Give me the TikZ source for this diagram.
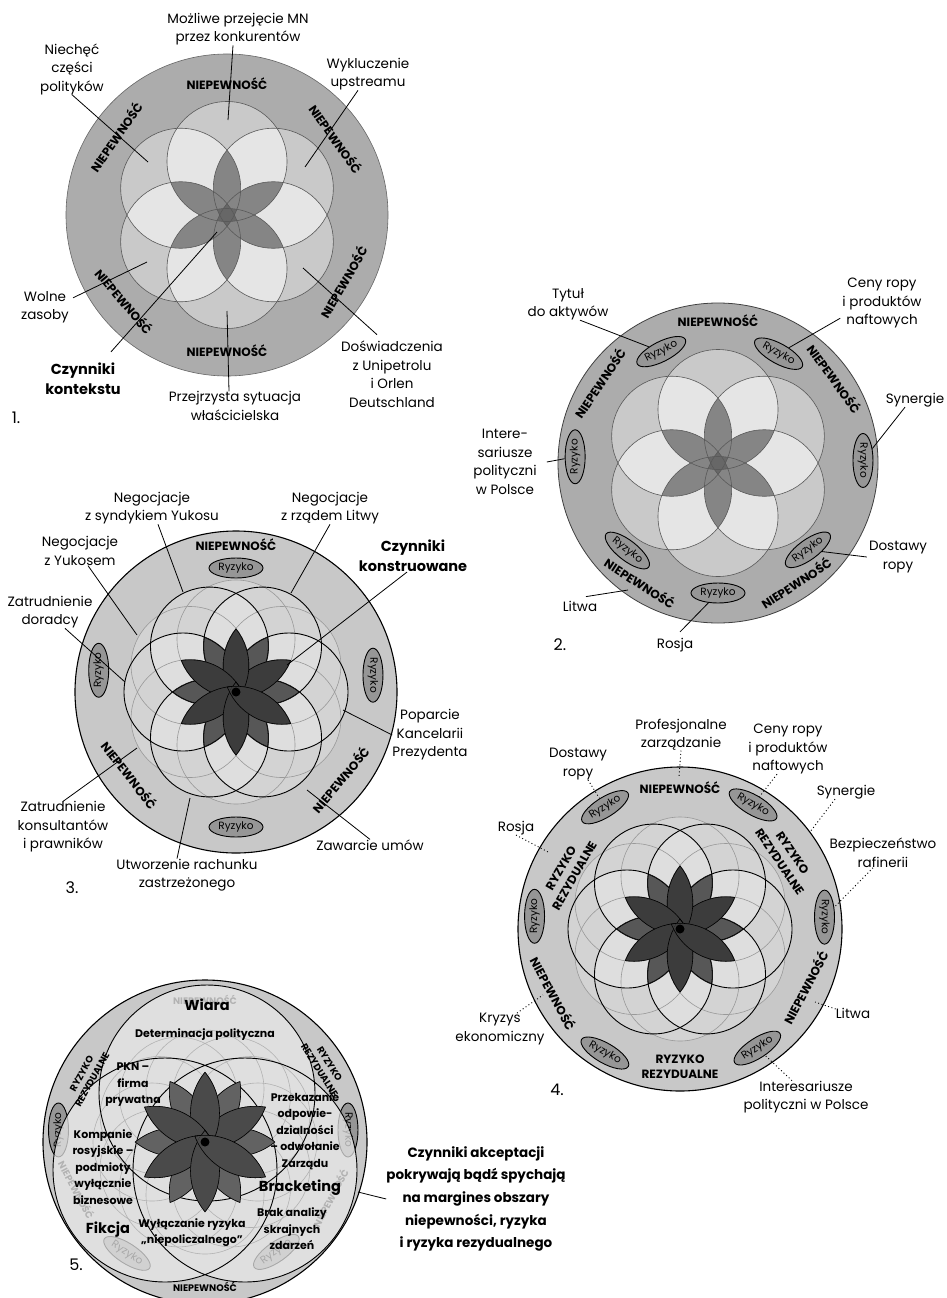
\documentclass[tikz,border=0pt]{standalone}
\usepackage{fontspec}
\setmainfont{Poppins}
\usetikzlibrary{calc,shapes.geometric}
\definecolor{ringA}{HTML}{ACACAC}
\definecolor{ringB}{HTML}{C8C8C8}
\definecolor{fA}{HTML}{C9C9C9}
\definecolor{fB}{HTML}{E5E5E5}
\definecolor{fC}{HTML}{858585}
\definecolor{fD}{HTML}{676767}
\definecolor{gA}{HTML}{D3D3D3}
\definecolor{gB}{HTML}{DEDEDE}
\definecolor{pA}{HTML}{575757}
\definecolor{pB}{HTML}{3C3C3C}
\definecolor{qA}{HTML}{626262}
\definecolor{qB}{HTML}{4A4A4A}
\definecolor{ryzf}{HTML}{969696}
\definecolor{bigf}{HTML}{E9E9E9}
\tikzset{
 lab/.style={align=center, inner sep=0pt, font=\fontsize{13.5}{18.5}\selectfont},
 blab/.style={align=center, inner sep=0pt, font=\fontsize{14.5}{20}\selectfont\bfseries},
 nie/.style={align=center, inner sep=0pt, font=\fontsize{12}{15.5}\selectfont\bfseries},
 nief/.style={align=center, inner sep=0pt, font=\fontsize{9.5}{12}\selectfont\bfseries},
 ryz/.style={ellipse, draw=black, line width=0.9pt, fill=ryzf, inner sep=0.3pt, minimum width=54pt, minimum height=20pt, font=\fontsize{10.5}{12}\selectfont},
 d5l/.style={align=center, inner sep=0pt, font=\fontsize{11}{16.5}\selectfont\bfseries},
 acc/.style={align=center, inner sep=0pt, font=\fontsize{13.5}{22.7}\selectfont\bfseries},
 con/.style={line width=0.8pt},
 dcon/.style={line width=0.9pt, dash pattern=on 1pt off 2.5pt},
 num/.style={inner sep=0pt, font=\fontsize{16}{18}\selectfont}
}
\newcommand{\flowersix}{%
 \foreach \i in {0,...,5}{\coordinate (s\i) at ({90+60*\i}:53.5);}
 \foreach \i in {0,...,5}{\fill[fA] (s\i) circle (60pt);}
 \foreach \i in {0,...,5}{\foreach \j in {0,...,5}{\ifnum\i<\j\relax
   \begin{scope}\clip (s\i) circle (60pt);\fill[fB] (s\j) circle (60pt);\end{scope}\fi}}
 \foreach \i in {0,...,5}{\foreach \j in {0,...,5}{\foreach \k in {0,...,5}{%
   \ifnum\i<\j\relax\ifnum\j<\k\relax
   \begin{scope}\clip (s\i) circle (60pt);\clip (s\j) circle (60pt);\fill[fC] (s\k) circle (60pt);\end{scope}\fi\fi}}}
 \foreach \m in {0,...,5}{%
   \pgfmathtruncatemacro\qa{mod(\m+1,6)}\pgfmathtruncatemacro\qb{mod(\m+2,6)}%
   \pgfmathtruncatemacro\qc{mod(\m+3,6)}\pgfmathtruncatemacro\qd{mod(\m+4,6)}%
   \pgfmathtruncatemacro\qe{mod(\m+5,6)}%
   \begin{scope}\clip (s\qa) circle (60pt);\clip (s\qb) circle (60pt);\clip (s\qc) circle (60pt);\clip (s\qd) circle (60pt);\fill[fD] (s\qe) circle (60pt);\end{scope}}
 \foreach \i in {0,...,5}{\draw[line width=0.6pt, draw=black!65] (s\i) circle (60pt);}
}
\newcommand{\petalx}[4]{%
 \begin{scope}
  \clip ({#1-60}:#3) circle (#4pt);
  \clip ({#1+60}:#3) circle (#4pt);
  \fill[#2] (#1:#3) circle (#4pt);
  \draw[line width=1.2pt] ({#1-60}:#3) circle (#4pt) ({#1+60}:#3) circle (#4pt);
 \end{scope}}
\newcommand{\flowertwelve}{%
 \foreach \i in {0,...,11}{\coordinate (t\i) at ({30*\i}:53);}
 \foreach \i in {0,...,11}{\fill[gA] (t\i) circle (59pt);}
 \foreach \i in {0,2,...,10}{\pgfmathtruncatemacro\qa{mod(\i+2,12)}%
   \begin{scope}\clip (t\i) circle (59pt);\fill[gB] (t\qa) circle (59pt);\end{scope}}
 \foreach \i in {1,3,...,11}{\draw[line width=0.6pt, draw=black!40] (t\i) circle (59pt);}
 \foreach \i in {0,2,...,10}{\draw[line width=0.9pt] (t\i) circle (59pt);}
 \foreach \a in {0,60,...,300}{\petalx{\a}{pA}{53}{59}}
 \foreach \a in {30,90,...,330}{\petalx{\a}{pB}{53}{59}}
 \fill[black] (0,0) circle (4.5pt);
}
\begin{document}
\begin{tikzpicture}[x=1pt,y=1pt]
\path[use as bounding box, fill=white] (0,0) rectangle (947,-1298);

% ================= Diagram 1
\begin{scope}[shift={(227,-215)}]
 \fill[ringA] (0,0) circle (161pt);
 \draw[line width=0.6pt, draw=black!60] (0,0) circle (161pt);
 \flowersix
 \node[nie] (d1n1) at (90:131) {NIEPEWNOŚĆ};
 \node[nie, rotate=55] (d1n2) at (145:136) {NIEPEWNOŚĆ};
 \node[nie, rotate=-55] (d1n3) at (35:133) {NIEPEWNOŚĆ};
 \node[nie, rotate=-50] (d1n4) at (220:134) {NIEPEWNOŚĆ};
 \node[nie, rotate=60] (d1n5) at (330:134) {NIEPEWNOŚĆ};
 \node[nie] (d1n6) at (270:136) {NIEPEWNOŚĆ};
\end{scope}
\node[lab] (d1a) at (238,-29) {Możliwe przejęcie MN\\przez konkurentów};
\coordinate (d1ae) at (228,-120);
\draw[con] ([xshift=-5pt]d1a.south) -- (d1ae);
\node[lab] (d1b) at (72,-69) {Niechęć\\części\\polityków};
\coordinate (d1be) at (148,-162);
\draw[con] (d1b.south) -- (d1be);
\node[lab] (d1c) at (368,-74) {Wykluczenie\\upstreamu};
\coordinate (d1ce) at (305,-167);
\draw[con] ([xshift=-10pt]d1c.south) -- (d1ce);
\node[lab] (d1d) at (45,-307) {Wolne\\zasoby};
\coordinate (d1de) at (147,-262);
\draw[con] ([shift={(4pt,-7pt)}]d1d.north east) -- (d1de);
\node[blab] (d1e) at (83,-379) {Czynniki\\kontekstu};
\coordinate (d1ee) at (217,-232);
\draw[con] ([shift={(-10pt,11pt)}]d1e.north east) -- (d1ee);
\node[lab] (d1f) at (235,-406) {Przejrzysta sytuacja\\właścicielska};
\coordinate (d1fe) at (227,-311);
\draw[con] ([xshift=-6pt]d1f.north) -- (d1fe);
\node[lab] (d1g) at (392,-374) {Doświadczenia\\z Unipetrolu\\i Orlen\\Deutschland};
\coordinate (d1ge) at (303,-268);
\draw[con] ([shift={(-15pt,6pt)}]d1g.north) -- (d1ge);
\node[num] (d1num) at (16,-418) {1.};

% ================= Diagram 2
\begin{scope}[shift={(718,-463)}]
 \fill[ringA] (0,0) circle (160pt);
 \draw[line width=0.8pt, draw=black!75] (0,0) circle (160pt);
 \flowersix
 \node[nie] (d2n1) at (90:142) {NIEPEWNOŚĆ};
 \node[nie, rotate=56] (d2n2) at (146:143) {NIEPEWNOŚĆ};
 \node[nie, rotate=-54] (d2n3) at (36:144) {NIEPEWNOŚĆ};
 \node[nie, rotate=-33] (d2n4) at (237:143) {NIEPEWNOŚĆ};
 \node[nie, rotate=33] (d2n5) at (303:143) {NIEPEWNOŚĆ};
 \node[ryz, rotate=27] (d2r1) at (117:125) {Ryzyko};
 \node[ryz, rotate=-29] (d2r2) at (61:125) {Ryzyko};
 \node[ryz, rotate=-90] (d2r3) at (1:145) {Ryzyko};
 \node[ryz, rotate=90] (d2r4) at (177.5:143) {Ryzyko};
 \node[ryz, rotate=-38] (d2r5) at (224:126) {Ryzyko};
 \node[ryz] (d2r6) at (270:130) {Ryzyko};
 \node[ryz, rotate=36] (d2r7) at (316:125) {Ryzyko};
\end{scope}
\node[lab] (d2a) at (568,-304) {Tytuł\\do aktywów};
\draw[con] ([xshift=12pt]d2a.south) -- (d2r1);
\node[lab] (d2b) at (882,-303) {Ceny ropy\\i produktów\\naftowych};
\draw[con] ([shift={(-2pt,10pt)}]d2b.south west) -- (d2r2);
\node[lab] (d2c) at (915,-400) {Synergie};
\draw[con] ([xshift=-10pt]d2c.south) -- (d2r3);
\node[lab] (d2d) at (505,-462) {Intere-\\sariusze\\polityczni\\w Polsce};
\draw[con] ([xshift=10pt]d2d.east) -- (d2r4);
\node[lab] (d2e) at (898,-557) {Dostawy\\ropy};
\draw[con] ([xshift=-2pt]d2e.west) -- (d2r7);
\node[lab] (d2f) at (580,-606) {Litwa};
\coordinate (d2fe) at (628,-590);
\draw[con] ([shift={(6pt,4pt)}]d2f.north) -- (d2fe);
\node[lab] (d2g) at (675,-645) {Rosja};
\draw[con] ([shift={(5pt,6pt)}]d2g.north) -- (d2r6);
\node[num] (d2num) at (560,-645) {2.};

% ================= Diagram 3
\begin{scope}[shift={(236,-692)}]
 \fill[ringB] (0,0) circle (161pt);
 \draw[line width=1.1pt] (0,0) circle (161pt);
 \flowertwelve
 \node[nie] (d3n1) at (90:147) {NIEPEWNOŚĆ};
 \node[nie, rotate=-52] (d3n2) at (218:135) {NIEPEWNOŚĆ};
 \node[nie, rotate=50] (d3n3) at (320:136) {NIEPEWNOŚĆ};
 \node[ryz] (d3r1) at (90:124) {Ryzyko};
 \node[ryz, rotate=90] (d3r2) at (171:139) {Ryzyko};
 \node[ryz, rotate=-90] (d3r3) at (7:138) {Ryzyko};
 \node[ryz] (d3r4) at (270:135) {Ryzyko};
\end{scope}
\node[lab] (d3a) at (152,-508) {Negocjacje\\z syndykiem Yukosu};
\coordinate (d3ae) at (183,-592);
\draw[con] ([xshift=6pt]d3a.south) -- (d3ae);
\node[lab] (d3b) at (330,-508) {Negocjacje\\z rządem Litwy};
\coordinate (d3be) at (291,-593);
\draw[con] (d3b.south) -- (d3be);
\node[lab] (d3c) at (80,-551) {Negocjacje\\z Yukosem};
\coordinate (d3ce) at (137,-635);
\draw[con] ([xshift=8pt]d3c.south) -- (d3ce);
\node[lab] (d3d) at (50,-612) {Zatrudnienie\\doradcy};
\coordinate (d3de) at (125,-682);
\draw[con] ([xshift=15pt]d3d.south) -- (d3de);
\node[blab] (d3e) at (413,-556) {Czynniki\\konstruowane};
\coordinate (d3ee) at (287,-665);
\draw[con] ([xshift=-6pt]d3e.south) -- (d3ee);
\node[lab] (d3f) at (430,-735) {Poparcie\\Kancelarii\\Prezydenta};
\coordinate (d3fe) at (343,-710);
\draw[con] (d3f.west) -- (d3fe);
\node[lab] (d3g) at (370,-845) {Zawarcie umów};
\coordinate (d3ge) at (307,-790);
\draw[con] (d3g.north) -- (d3ge);
\node[lab] (d3h) at (63,-827) {Zatrudnienie\\konsultantów\\i prawników};
\coordinate (d3he) at (137,-748);
\draw[con] (d3h.north) -- (d3he);
\node[lab] (d3i) at (187,-875) {Utworzenie rachunku\\zastrzeżonego};
\coordinate (d3ie) at (190,-798);
\draw[con] ([xshift=-10pt]d3i.north) -- (d3ie);
\node[num] (d3num) at (72,-888) {3.};

% ================= Diagram 4
\begin{scope}[shift={(680,-929)}]
 \fill[ringB] (0,0) circle (162pt);
 \draw[line width=1.1pt] (0,0) circle (162pt);
 \flowertwelve
 \node[nie] (d4n1) at (90:141) {NIEPEWNOŚĆ};
 \node[nie, rotate=-62] (d4n2) at (207:142) {NIEPEWNOŚĆ};
 \node[nie, rotate=62] (d4n3) at (335:138) {NIEPEWNOŚĆ};
 \node[nie, rotate=60] (d4z1) at (153:126) {RYZYKO\\REZYDUALNE};
 \node[nie, rotate=-56] (d4z2) at (34:128) {RYZYKO\\REZYDUALNE};
 \node[nie] (d4z3) at (270:138) {RYZYKO\\REZYDUALNE};
 \node[ryz, rotate=32] (d4r1) at (121.6:143) {Ryzyko};
 \node[ryz, rotate=-30] (d4r2) at (59.5:144) {Ryzyko};
 \node[ryz, rotate=-90] (d4r3) at (4.7:145) {Ryzyko};
 \node[ryz, rotate=90] (d4r4) at (175:146) {Ryzyko};
 \node[ryz, rotate=-30] (d4r5) at (238.8:145) {Ryzyko};
 \node[ryz, rotate=33] (d4r6) at (303:142) {Ryzyko};
\end{scope}
\node[lab] (d4a) at (681,-734.5) {Profesjonalne\\zarządzanie};
\coordinate (d4ae) at (679,-777);
\draw[dcon] (d4a.south) -- (d4ae);
\node[lab] (d4b) at (788,-749) {Ceny ropy\\i produktów\\naftowych};
\draw[dcon] ([xshift=-11pt]d4b.south) -- (d4r2);
\node[lab] (d4c) at (578,-764) {Dostawy\\ropy};
\draw[dcon] ([xshift=10pt]d4c.south) -- (d4r1);
\node[lab] (d4d) at (846,-792) {Synergie};
\coordinate (d4de) at (810,-832);
\draw[dcon] ([xshift=-11pt]d4d.south) -- (d4de);
\node[lab] (d4e) at (883,-853) {Bezpieczeństwo\\rafinerii};
\draw[dcon] ([xshift=-10pt]d4e.south) -- (d4r3);
\node[lab] (d4f) at (516,-828) {Rosja};
\coordinate (d4fe) at (550,-853);
\draw[dcon] (d4f.south) -- (d4fe);
\node[lab] (d4g) at (500,-1029) {Kryzys\\ekonomiczny};
\coordinate (d4ge) at (543,-995);
\draw[dcon] ([xshift=17pt]d4g.north) -- (d4ge);
\node[lab] (d4h) at (853,-1013) {Litwa};
\coordinate (d4he) at (815,-1002);
\draw[dcon] ([yshift=4pt]d4h.west) -- (d4he);
\node[lab] (d4i) at (806,-1097) {Interesariusze\\polityczni w Polsce};
\draw[dcon] ([xshift=-14pt]d4i.north) -- (d4r6);
\node[num] (d4num) at (557,-1090) {4.};

% ================= Diagram 5
\begin{scope}[shift={(205,-1142)}]
 \fill[ringB] (0,0) circle (162pt);
 \node[nief, text=black!85] (d5g1) at (90:142) {NIEPEWNOŚĆ};
 \node[nief, text=black!85, rotate=-62] (d5g2) at (200.5:137) {NIEPEWNOŚĆ};
 \node[nief, text=black!85, rotate=62] (d5g3) at (336:137) {NIEPEWNOŚĆ};
 \node[ryz, rotate=-33] (d5r3) at (235:136) {Ryzyko};
 \node[ryz, rotate=35] (d5r4) at (303:131) {Ryzyko};
 \node[ryz, rotate=90] (d5r1) at (175.3:147) {Ryzyko};
 \node[ryz, rotate=-90] (d5r2) at (4.8:143.5) {Ryzyko};
 \fill[bigf, fill opacity=0.72] (2,49) circle (108pt) (-40,-28) circle (112pt) (40,-28) circle (112pt);
 \foreach \i in {0,...,11}{\draw[line width=0.6pt, draw=black!30] ({30*\i}:53) circle (59pt);}
 \draw[line width=0.9pt] (2,49) circle (108pt) (-40,-28) circle (112pt) (40,-28) circle (112pt);
 \foreach \a in {0,60,...,300}{\petalx{\a}{qA}{58}{65}}
 \foreach \a in {30,90,...,330}{\petalx{\a}{qB}{58}{65}}
 \fill[black] (0,0) circle (4.5pt);
 \draw[line width=1.1pt] (0,0) circle (162pt);
 \node[nief, rotate=61] (d5z1) at (151:135) {RYZYKO\\REZYDUALNE};
 \node[nief, rotate=-58] (d5z2) at (32:141) {RYZYKO\\REZYDUALNE};
 \node[nief] (d5n) at (270:145) {NIEPEWNOŚĆ};
\end{scope}
\node[blab] (d5w) at (207,-1005) {Wiara};
\node[d5l] (d5a) at (205,-1035) {Determinacja polityczna};
\node[d5l] (d5b) at (133,-1085) {PKN –\\firma\\prywatna};
\node[d5l] (d5c) at (103,-1167) {Kompanie\\rosyjskie –\\podmioty\\wyłącznie\\biznesowe};
\node[d5l] (d5d) at (305,-1131) {Przekazanie\\odpowie-\\dzialności\\– odwołanie\\Zarządu};
\node[blab] (d5e) at (300,-1188) {Bracketing};
\node[d5l] (d5f) at (292,-1229) {Brak analizy\\skrajnych\\zdarzeń};
\node[blab] (d5fi) at (108,-1230) {Fikcja};
\node[d5l] (d5h) at (192,-1232.5) {Wyłączanie ryzyka\\„niepoliczalnego”};
\node[acc] (d5acc) at (476,-1199) {Czynniki akceptacji\\pokrywają bądź spychają\\na margines obszary\\niepewności, ryzyka\\i ryzyka rezydualnego};
\coordinate (d5ce) at (358,-1192);
\draw[con] (d5acc.west) -- (d5ce);
\node[num] (d5num) at (76,-1265) {5.};
\end{tikzpicture}
\end{document}
